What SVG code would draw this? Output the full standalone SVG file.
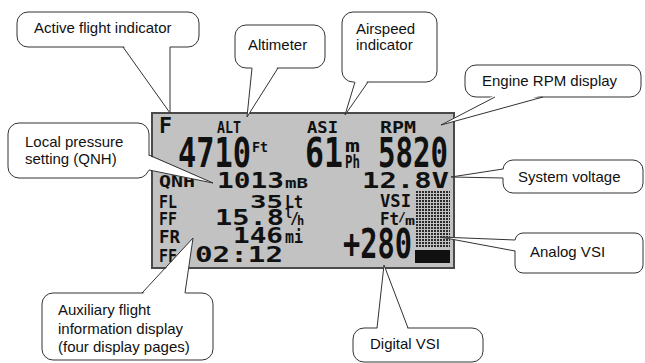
<svg xmlns="http://www.w3.org/2000/svg" width="645" height="363" viewBox="0 0 645 363">
<style>
.lcd{font-family:"DejaVu Sans Mono","Liberation Mono",monospace;font-weight:bold;fill:#111}
.box{fill:#fff;stroke:#333;stroke-width:1}
.lab{font-family:"Liberation Sans",Arial,sans-serif;font-size:15px;fill:#111}
.wf{fill:#fff;stroke:none}
.ws{fill:none;stroke:#333;stroke-width:1;stroke-linejoin:miter}
</style>
<defs>
<pattern id="dots" x="415" y="190" width="3" height="3" patternUnits="userSpaceOnUse">
<rect x="1" y="1" width="2" height="2" fill="#2a2a2a"/>
</pattern>
</defs>
<rect width="645" height="363" fill="#fff"/>
<g id="lcd-panel">
<rect x="152" y="113" width="302" height="155" fill="#c2c2c2" stroke="#4a4a4a" stroke-width="2"/>
<text class="lcd" x="159" y="133" font-size="21" textLength="13" lengthAdjust="spacingAndGlyphs">F</text>
<text class="lcd" x="217" y="133" font-size="15" textLength="24" lengthAdjust="spacingAndGlyphs">ALT</text>
<text class="lcd" x="307" y="133" font-size="15" textLength="31" lengthAdjust="spacingAndGlyphs">ASI</text>
<text class="lcd" x="380" y="133" font-size="15" textLength="36" lengthAdjust="spacingAndGlyphs">RPM</text>
<text class="lcd" x="178" y="167" font-size="41" textLength="73" lengthAdjust="spacingAndGlyphs">4710</text>
<text class="lcd" x="252" y="152" font-size="14" textLength="16" lengthAdjust="spacingAndGlyphs">Ft</text>
<text class="lcd" x="305" y="167" font-size="41" textLength="38" lengthAdjust="spacingAndGlyphs">61</text>
<text class="lcd" x="345" y="152" font-size="18" textLength="15" lengthAdjust="spacingAndGlyphs">m</text>
<text class="lcd" x="345" y="168" font-size="17" textLength="15" lengthAdjust="spacingAndGlyphs">Ph</text>
<text class="lcd" x="378" y="167" font-size="41" textLength="70" lengthAdjust="spacingAndGlyphs">5820</text>
<text class="lcd" x="159" y="187" font-size="15" textLength="36" lengthAdjust="spacingAndGlyphs">QNH</text>
<text class="lcd" x="217" y="188" font-size="21" textLength="67" lengthAdjust="spacingAndGlyphs">1013</text>
<text class="lcd" x="285" y="188" font-size="14" textLength="23" lengthAdjust="spacingAndGlyphs">mB</text>
<text class="lcd" x="362" y="188" font-size="21" textLength="87" lengthAdjust="spacingAndGlyphs">12.8V</text>
<text class="lcd" x="159" y="208" font-size="17" textLength="18" lengthAdjust="spacingAndGlyphs">FL</text>
<text class="lcd" x="250" y="208" font-size="18" textLength="33" lengthAdjust="spacingAndGlyphs">35</text>
<text class="lcd" x="285" y="208" font-size="17" textLength="18" lengthAdjust="spacingAndGlyphs">Lt</text>
<text class="lcd" x="159" y="225" font-size="17" textLength="18" lengthAdjust="spacingAndGlyphs">FF</text>
<text class="lcd" x="215" y="225" font-size="21" textLength="69" lengthAdjust="spacingAndGlyphs">15.8</text>
<text class="lcd" font-size="12"><tspan x="285" y="218">l</tspan><tspan x="290" y="224" font-size="15">/</tspan><tspan x="297" y="225">h</tspan></text>
<text class="lcd" x="159" y="243" font-size="17" textLength="21" lengthAdjust="spacingAndGlyphs">FR</text>
<text class="lcd" x="233" y="243" font-size="21" textLength="50" lengthAdjust="spacingAndGlyphs">146</text>
<text class="lcd" x="285" y="243" font-size="17" textLength="18" lengthAdjust="spacingAndGlyphs">mi</text>
<text class="lcd" x="159" y="262" font-size="17" textLength="18" lengthAdjust="spacingAndGlyphs">FF</text>
<text class="lcd" x="195" y="262" font-size="21" textLength="88" lengthAdjust="spacingAndGlyphs">02:12</text>
<text class="lcd" x="380" y="207" font-size="18" textLength="31" lengthAdjust="spacingAndGlyphs">VSI</text>
<text class="lcd" font-size="17"><tspan x="380" y="225" textLength="19" lengthAdjust="spacingAndGlyphs">Ft</tspan><tspan x="398" y="221" font-size="13">/</tspan><tspan x="405" y="225" font-size="13" textLength="10" lengthAdjust="spacingAndGlyphs">m</tspan></text>
<text class="lcd" x="343" y="258" font-size="40" textLength="69" lengthAdjust="spacingAndGlyphs">+280</text>
<rect x="415" y="190" width="35" height="58" fill="url(#dots)"/>
<rect x="415" y="250" width="35" height="13" fill="#111"/>
</g>
<g id="callout-active-flight">
<rect class="box" x="17" y="12" width="182" height="35" rx="11"/>
<text class="lab" x="34" y="33">Active flight indicator</text>
</g>
<g id="callout-altimeter">
<rect class="box" x="235" y="25" width="90" height="43" rx="11"/>
<text class="lab" x="248" y="50">Altimeter</text>
</g>
<g id="callout-airspeed">
<rect class="box" x="342" y="12" width="95" height="70" rx="11"/>
<text class="lab" x="356" y="34">Airspeed</text>
<text class="lab" x="356" y="50">indicator</text>
</g>
<g id="callout-rpm">
<rect class="box" x="465" y="65" width="176" height="32" rx="11"/>
<text class="lab" x="482" y="86">Engine RPM display</text>
</g>
<g id="callout-qnh">
<rect class="box" x="8" y="123" width="141" height="55" rx="11"/>
<text class="lab" x="25" y="147">Local pressure</text>
<text class="lab" x="25" y="164">setting (QNH)</text>
</g>
<g id="callout-aux">
<rect class="box" x="42" y="293" width="171" height="67" rx="11"/>
<text class="lab" x="58" y="315">Auxiliary flight</text>
<text class="lab" x="58" y="334">information display</text>
<text class="lab" x="58" y="352">(four display pages)</text>
</g>
<g id="callout-voltage">
<rect class="box" x="503" y="160" width="140" height="33" rx="10"/>
<text class="lab" x="518" y="182">System voltage</text>
</g>
<g id="callout-analog-vsi">
<rect class="box" x="515" y="233" width="128" height="40" rx="8"/>
<text class="lab" x="530" y="257">Analog VSI</text>
</g>
<g id="callout-digital-vsi">
<rect class="box" x="353" y="328" width="130" height="34" rx="11"/>
<text class="lab" x="370" y="349">Digital VSI</text>
</g>
<g id="connectors">
<polygon class="wf" points="123,45 170,113 170,45"/>
<polyline class="ws" points="123,47 170,113 170,47"/>
<polygon class="wf" points="252,66 247,117 278,66"/>
<polyline class="ws" points="252,68 247,117 278,68"/>
<polygon class="wf" points="355,80 345,115 368,80"/>
<polyline class="ws" points="355,82 345,115 368,82"/>
<polygon class="wf" points="495,95 441,125 543,95"/>
<polyline class="ws" points="495,97 441,125 543,97"/>
<polygon class="wf" points="147,155 213,183 147,170"/>
<polyline class="ws" points="149,155 213,183 149,170"/>
<polygon class="wf" points="142,295 193,238 185,295"/>
<polyline class="ws" points="142,293 193,238 185,293"/>
<polygon class="wf" points="505,169 451,177 505,178"/>
<polyline class="ws" points="503,169 451,177 503,178"/>
<polygon class="wf" points="517,240 440,237 517,251"/>
<polyline class="ws" points="515,240 440,237 515,251"/>
<polygon class="wf" points="377,330 384,265 408,330"/>
<polyline class="ws" points="377,328 384,265 408,328"/>
</g>
</svg>
